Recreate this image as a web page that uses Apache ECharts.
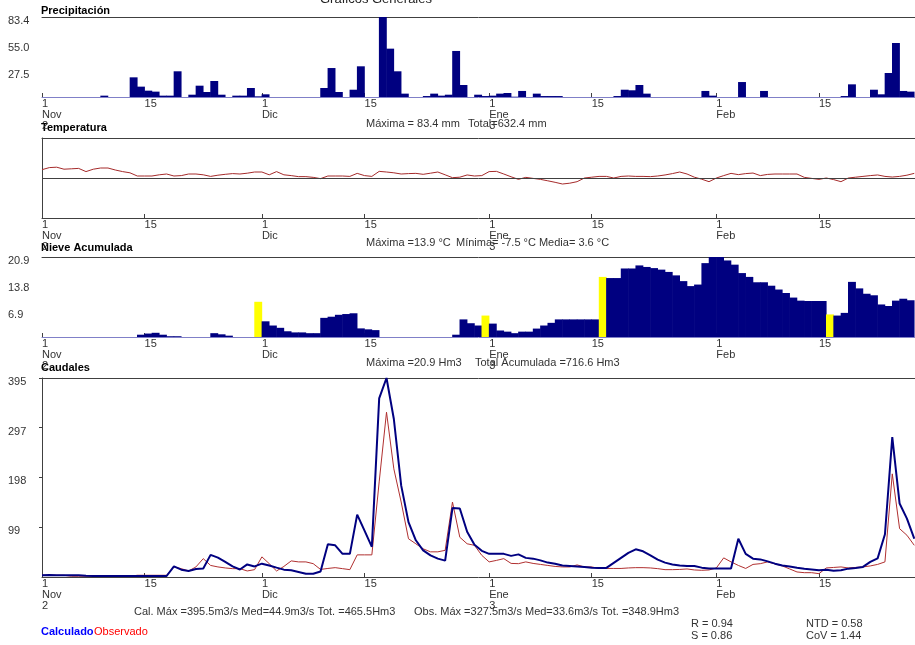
<!DOCTYPE html>
<html>
<head>
<meta charset="utf-8">
<title>Graficos Generales</title>
<script src="https://cdn.jsdelivr.net/npm/echarts@6.0.0/dist/echarts.min.js"></script>
<style>
  html, body { margin: 0; padding: 0; background: #fff; }
  #chart { width: 915px; height: 645px; }
</style>
</head>
<body>
<div id="chart"></div>
<script>
// dias contados desde el 1 de noviembre
const tickDays = [0, 14, 30, 44, 61, 75, 92, 106]
const tickText = ['1\nNov\n2', '15', '1\nDic', '15', '1\nEne\n3', '15', '1\nFeb', '15']

// precipitacion diaria (mm)
const precip = [
  0, 0, 0, 0, 0, 0, 0, 0, 1.4, 0,
  0, 0, 20.5, 10.8, 6.6, 5.6, 1.4, 1.4, 26.8, 0,
  2.4, 11.8, 5.2, 16.7, 2.4, 0, 1.4, 1.4, 9.4, 0.7,
  2.8, 0, 0, 0, 0, 0, 0, 0, 9.4, 30.2,
  5.2, 0, 7.6, 32, 0, 0, 83.4, 50.4, 26.8, 3.5,
  0, 0, 1, 3.5, 1.4, 2.4, 48, 12.5, 0, 2.4,
  1, 1.4, 3.5, 4.2, 0.3, 6.3, 0, 3.5, 1, 1,
  1, 0, 0, 0, 0, 0, 0, 0, 1, 7.6,
  7, 12.5, 3.5, 0, 0, 0, 0, 0, 0, 0,
  6.3, 1.4, 0, 0, 0, 15.6, 0, 0, 6.3, 0,
  0, 0, 0, 0, 0, 0, 0, 0, 0, 1,
  13.2, 0, 0, 7.6, 2.8, 25, 56.3, 6.3, 5.6
]

// temperatura media diaria (°C)
const temp = [
  10.4, 13, 13.5, 11, 11.5, 12, 8, 11, 12.5, 12.5,
  10, 8, 6.5, 2.5, 2.5, 2.5, 4, 5, 2.5, 3,
  5, 5, 4, 2, 3.5, 4.6, 5.5, 5, 6, 7.5,
  7.5, 4, 8, 4, 3, 1.7, 1.7, 0.8, -0.8, 2.5,
  2.5, 2.5, 2, 5.8, 3, 2, 8.3, 7.5, 6.5, 5,
  5.5, 5.8, 4.6, 6, 7.5, 4, 0.4, 1, 3.8, 2.5,
  3, 8, 8.3, 5, 1.5, -1.7, 0.8, -0.5, -1.7, -3.5,
  -5.4, -7.5, -6.5, -4.6, 0, 1, 2, 2, 0, 2,
  2.5, 2, 2, 1.7, 2.5, 3.8, 5.5, 7.5, 5, 1,
  -1.5, -4.6, 0, 3, 5.8, 4.2, 5.5, 6.2, 3, 4.5,
  5, 5, 5, 5, 0.8, -0.5, -1.7, 0, -2, -4.6,
  0, 1, 2, 3, 3.8, 2, 1.2, 2, 3.5, 5.8
]

// nieve acumulada (Hm3)
const snow = [
  0, 0, 0, 0, 0, 0, 0, 0, 0, 0,
  0, 0, 0, 0.6, 0.9, 1.1, 0.6, 0.2, 0.2, 0,
  0, 0, 0, 1.0, 0.7, 0.35, 0, 0, 0, 9.2,
  4.1, 3.0, 2.4, 1.5, 1.2, 1.2, 1.0, 1.0, 5.0, 5.3,
  5.8, 6.0, 6.2, 2.25, 2.0, 1.8, 0, 0, 0, 0,
  0, 0, 0, 0, 0, 0, 0.6, 4.6, 3.6, 3.0,
  5.6, 3.5, 1.7, 1.4, 1.0, 1.4, 1.4, 2.2, 3.0, 3.7,
  4.6, 4.6, 4.6, 4.6, 4.6, 4.6, 15.7, 15.4, 15.4, 17.9,
  17.9, 18.7, 18.3, 18.0, 17.6, 17.0, 16.1, 14.6, 13.3, 13.7,
  19.3, 20.9, 20.9, 20.0, 18.9, 16.7, 15.7, 14.3, 14.3, 13.4,
  12.4, 11.5, 10.3, 9.5, 9.4, 9.4, 9.4, 5.9, 5.6, 6.3,
  14.4, 12.7, 11.3, 10.9, 8.5, 8.1, 9.5, 10.0, 9.6
]
const snowMarks = [29, 60, 76, 107]

// caudales (m3/s)
const qCalc = [
  3.4, 4, 3.4, 3.4, 3.4, 3.4, 2.5, 2, 2, 2,
  2, 2, 2, 2, 2, 2, 2, 2, 21, 14.6,
  12, 16, 17, 44, 38.5, 30, 21, 15, 25, 21,
  26.5, 23, 18.6, 14.6, 13.3, 10, 6.6, 6.6, 11, 65,
  63, 46, 46, 124, 92, 60, 355, 395.5, 314, 182,
  109, 73, 53, 43, 36.5, 32.5, 137, 136, 90, 64,
  52, 46, 46, 46, 42, 45, 38, 36.5, 33, 28.6,
  26.5, 23, 22, 21, 20, 18.6, 18, 18, 28, 38,
  48, 55, 51, 43, 34.5, 28.6, 25, 23, 22, 22,
  18.6, 17, 17, 17, 17, 76, 46, 36.5, 35, 31,
  26.5, 23, 21, 18.6, 16.6, 15, 13.3, 14.6, 12.6, 13.3,
  16.6, 18, 20, 30, 37, 85, 278, 146, 116, 76
]
const qObs = [
  3.4, 3.4, 3.4, 3.4, 1.5, 1.5, 1.5, 1.5, 1.5, 1.5,
  1.5, 1.5, 1.5, 3.4, 3.4, 3.4, 3.4, 3.4, 20, 16.6,
  12, 20, 36.5, 23, 20, 18, 16.6, 16.6, 12, 14.6,
  40, 26.5, 12, 21, 32, 30, 30, 26.5, 15, 17,
  18.6, 16.6, 14.6, 44, 44, 44, 189, 327.5, 215, 149,
  76, 66, 56, 50, 50, 53, 149, 79, 66, 63,
  43, 30, 33, 36.5, 27, 26.5, 30, 27, 25, 23,
  21, 20, 20, 24, 20, 20, 17, 17, 17, 17,
  18, 18.6, 18.6, 18, 16.6, 14.6, 14.6, 15, 16, 14,
  13.3, 14, 18, 38, 30, 23, 17, 25, 26.5, 30,
  26, 22, 16, 10, 8.6, 8.6, 6.6, 18, 19, 20,
  18, 19, 20, 22, 25, 30, 205, 96, 83, 63
]

const precipTicks = [27.5, 55.0, 83.4]
const snowTicks = [6.9, 13.8, 20.9]
const flowTicks = [99, 198, 297, 395]

const FONT = '"Liberation Sans", Arial, sans-serif'
const DAYS = 119.1
const TXT = '#333'

function bottomAxis (grid, lineColor) {
  return {
    type: 'value',
    gridIndex: grid,
    position: 'bottom',
    min: 0,
    max: DAYS,
    splitLine: { show: false },
    axisLine: { show: true, onZero: false, lineStyle: { color: lineColor, width: 1 } },
    axisTick: { show: true, inside: true, length: 4, customValues: tickDays, lineStyle: { color: '#404040' } },
    axisLabel: {
      customValues: tickDays,
      formatter: v => tickText[tickDays.indexOf(v)],
      align: 'left',
      margin: 1,
      lineHeight: 11,
      fontSize: 11,
      fontFamily: FONT,
      color: TXT
    }
  }
}

function topAxis (grid) {
  return {
    type: 'value',
    gridIndex: grid,
    position: 'top',
    min: 0,
    max: DAYS,
    splitLine: { show: false },
    axisLine: { show: true, onZero: false, lineStyle: { color: '#404040' } },
    axisTick: { show: false },
    axisLabel: { show: false }
  }
}

function valueAxis (grid, min, max, ticks, fmt, showLine) {
  return {
    type: 'value',
    gridIndex: grid,
    min,
    max,
    splitLine: { show: false },
    axisLine: { show: showLine, lineStyle: { color: '#404040' } },
    axisTick: ticks ? { show: showLine, length: 3, customValues: ticks, lineStyle: { color: '#404040' } } : { show: false },
    axisLabel: ticks ? {
      customValues: ticks,
      formatter: fmt,
      align: 'left',
      verticalAlign: 'top',
      lineHeight: 8,
      margin: 34,
      fontSize: 11,
      fontFamily: FONT,
      color: TXT
    } : { show: false }
  }
}

function txt (text, x, y, size, weight, color) {
  return {
    type: 'text',
    x,
    y,
    silent: true,
    style: {
      text,
      fill: color || TXT,
      font: `${weight || 'normal'} ${size || 11}px ${FONT}`,
      verticalAlign: 'middle',
      align: 'left'
    }
  }
}

const chart = echarts.init(document.getElementById('chart'), null, { renderer: 'canvas' })

chart.setOption({
  animation: false,
  backgroundColor: '#fff',
  grid: [
    { left: 42, right: 0, top: 17, height: 80 },
    { left: 42, right: 0, top: 138, height: 80 },
    { left: 42, right: 0, top: 257, height: 80 },
    { left: 42, right: 0, top: 378, height: 199 }
  ],
  xAxis: [
    bottomAxis(0, '#8080c8'), topAxis(0),
    bottomAxis(1, '#404040'), topAxis(1),
    bottomAxis(2, '#8080c8'), topAxis(2),
    bottomAxis(3, '#404040'), topAxis(3)
  ],
  yAxis: [
    valueAxis(0, 0, 83.4, precipTicks, v => v.toFixed(1), false),
    valueAxis(1, -50, 50, null, null, true),
    valueAxis(2, 0, 20.9, snowTicks, v => v.toFixed(1), false),
    valueAxis(3, 0, 395.5, flowTicks, v => String(v), true)
  ],
  series: [
    {
      name: 'Precipitación',
      type: 'bar',
      xAxisIndex: 0,
      yAxisIndex: 0,
      barWidth: 7.9,
      silent: true,
      itemStyle: { color: '#000080' },
      data: precip.map((v, i) => [i + 0.5, v])
    },
    {
      name: 'Temperatura',
      type: 'line',
      xAxisIndex: 2,
      yAxisIndex: 1,
      symbol: 'none',
      silent: true,
      lineStyle: { color: '#a52a2a', width: 1 },
      data: temp.map((v, i) => [i, v]),
      markLine: {
        silent: true,
        symbol: 'none',
        label: { show: false },
        lineStyle: { color: '#404040', type: 'solid', width: 1 },
        data: [{ yAxis: 0 }]
      }
    },
    {
      name: 'Nieve Acumulada',
      type: 'bar',
      xAxisIndex: 4,
      yAxisIndex: 2,
      barWidth: 7.9,
      silent: true,
      itemStyle: { color: '#000080' },
      data: snow.map((v, i) => snowMarks.includes(i)
        ? { value: [i + 0.5, v], itemStyle: { color: '#ffff00' } }
        : [i + 0.5, v])
    },
    {
      name: 'Observado',
      type: 'line',
      xAxisIndex: 6,
      yAxisIndex: 3,
      symbol: 'none',
      silent: true,
      lineStyle: { color: '#b03030', width: 1 },
      data: qObs.map((v, i) => [i, v])
    },
    {
      name: 'Calculado',
      type: 'line',
      xAxisIndex: 6,
      yAxisIndex: 3,
      symbol: 'none',
      silent: true,
      lineStyle: { color: '#000080', width: 2 },
      data: qCalc.map((v, i) => [i, v])
    }
  ],
  graphic: {
    elements: [
      txt('Graficos Generales', 320, -1, 13, 'normal', '#222'),
      txt('Precipitación', 41, 11, 11, 'bold', '#000'),
      txt('Máxima = 83.4 mm', 366, 124),
      txt('Total=632.4 mm', 468, 124),
      txt('Temperatura', 41, 128, 11, 'bold', '#000'),
      txt('Máxima =13.9 °C', 366, 243),
      txt('Mínima= -7.5 °C Media= 3.6 °C', 456, 243),
      txt('Nieve Acumulada', 41, 248, 11, 'bold', '#000'),
      txt('Máxima =20.9 Hm3', 366, 363),
      txt('Total Acumulada =716.6 Hm3', 475, 363),
      txt('Caudales', 41, 368, 11, 'bold', '#000'),
      txt('Cal. Máx =395.5m3/s Med=44.9m3/s Tot. =465.5Hm3', 134, 612),
      txt('Obs. Máx =327.5m3/s Med=33.6m3/s Tot. =348.9Hm3', 414, 612),
      txt('R = 0.94', 691, 624),
      txt('S = 0.86', 691, 636),
      txt('NTD = 0.58', 806, 624),
      txt('CoV = 1.44', 806, 636),
      txt('Calculado', 41, 632, 11, 'bold', '#0000ff'),
      txt('Observado', 94, 632, 11, 'normal', '#ff0000')
    ]
  }
})
</script>
</body>
</html>
